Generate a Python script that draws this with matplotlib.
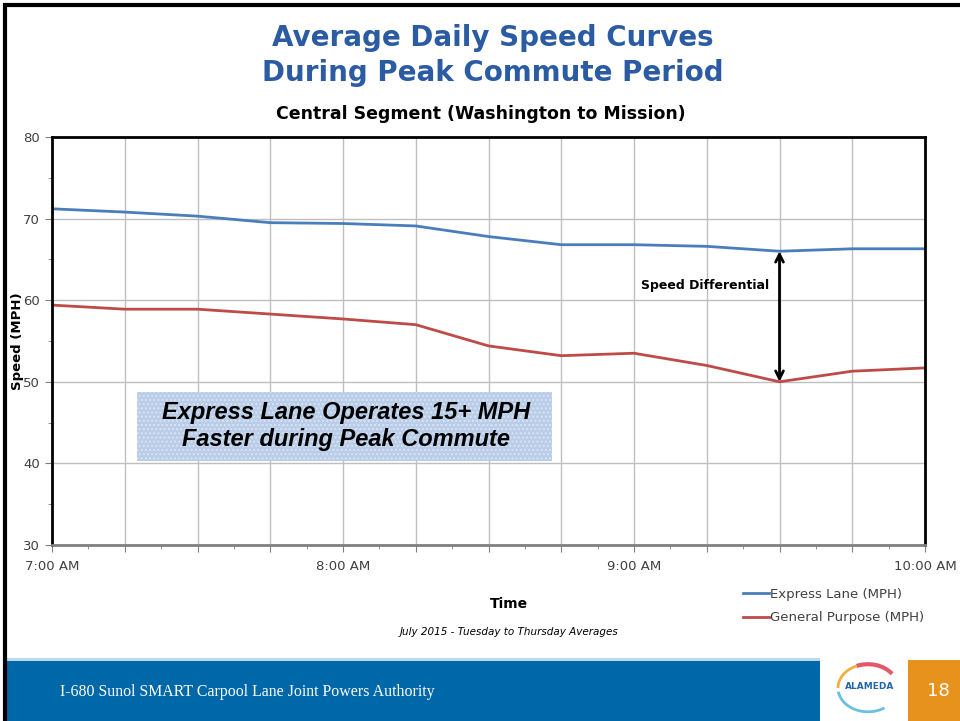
import matplotlib.pyplot as plt
from matplotlib.patches import Rectangle, Arc
from matplotlib.ticker import FixedLocator, FuncFormatter

# minutes after 7:00 AM, one sample every 15 minutes
minutes = [0, 15, 30, 45, 60, 75, 90, 105, 120, 135, 150, 165, 180]
express_lane = [71.2, 70.8, 70.3, 69.5, 69.4, 69.1, 67.8, 66.8, 66.8, 66.6, 66.0, 66.3, 66.3]
general_purpose = [59.4, 58.9, 58.9, 58.3, 57.7, 57.0, 54.4, 53.2, 53.5, 52.0, 50.0, 51.3, 51.7]
hour_labels = {0: "7:00 AM", 60: "8:00 AM", 120: "9:00 AM", 180: "10:00 AM"}

W, H = 960, 721
fig = plt.figure(figsize=(9.6, 7.21), dpi=100)
fig.patch.set_facecolor("white")


def fx(px):
    return px / W


def fy(py):
    return 1 - py / H


# slide frame
fig.patches.append(Rectangle((fx(5), fy(725)), fx(960), 720 / H, transform=fig.transFigure,
                             facecolor="none", edgecolor="black", linewidth=3, zorder=10))

# titles
fig.text(fx(493), fy(38), "Average Daily Speed Curves", ha="center", va="center",
         fontsize=20, fontweight="bold", color="#2a5ba3")
fig.text(fx(493), fy(73), "During Peak Commute Period", ha="center", va="center",
         fontsize=20, fontweight="bold", color="#2a5ba3")
fig.text(fx(481), fy(114), "Central Segment (Washington to Mission)", ha="center", va="center",
         fontsize=12.5, fontweight="bold", color="black")

# plot area
ax = fig.add_axes([fx(52), fy(545), (925 - 52) / W, (545 - 137) / H])
ax.plot(minutes, express_lane, color="#4a7ebb", linewidth=2, label="Express Lane (MPH)")
ax.plot(minutes, general_purpose, color="#be4b48", linewidth=2, label="General Purpose (MPH)")

ax.set_xlim(0, 180)
ax.set_ylim(30, 80)
ax.xaxis.set_major_locator(FixedLocator(minutes))
ax.xaxis.set_minor_locator(FixedLocator([m + 7.5 for m in minutes[:-1]]))
ax.xaxis.set_major_formatter(FuncFormatter(lambda v, p: hour_labels.get(int(round(v)), "")))
ax.set_yticks(range(30, 81, 10))
ax.set_yticks(range(35, 80, 10), minor=True)
ax.grid(True, which="major", color="#bfbfbf", linewidth=1)
ax.set_axisbelow(True)
ax.tick_params(axis="both", which="both", direction="out", colors="#808080",
               labelcolor="#404040", labelsize=9.5)
ax.tick_params(axis="both", which="major", length=5)
ax.tick_params(axis="both", which="minor", length=3)
ax.tick_params(axis="x", pad=6)
for side in ["left", "top", "right"]:
    ax.spines[side].set_color("black")
    ax.spines[side].set_linewidth(2)
ax.spines["bottom"].set_color("#808080")
ax.spines["bottom"].set_linewidth(2)

ax.set_ylabel("Speed (MPH)", fontsize=9.5, fontweight="bold")
ax.yaxis.set_label_coords(-0.032, 0.5)

# speed differential arrow at 9:30
ax.annotate("", xy=(150, express_lane[10]), xytext=(150, general_purpose[10]),
            arrowprops=dict(arrowstyle="<->", color="black", linewidth=2,
                            mutation_scale=14, shrinkA=0, shrinkB=0))
ax.text(121.5, 61.8, "Speed Differential", fontsize=9, fontweight="bold",
        ha="left", va="center")

# callout box
fig.patches.append(Rectangle((fx(137), fy(461)), (552 - 137) / W, (461 - 392) / H,
                             transform=fig.transFigure, facecolor="#b9cde8",
                             edgecolor="#d9e4f2", hatch="....", linewidth=0, zorder=2))
fig.text(fx(346), fy(413), "Express Lane Operates 15+ MPH", ha="center", va="center",
         fontsize=17, fontweight="bold", style="italic", family="Liberation Sans", zorder=3)
fig.text(fx(346), fy(440), "Faster during Peak Commute", ha="center", va="center",
         fontsize=17, fontweight="bold", style="italic", family="Liberation Sans", zorder=3)

# axis title and note
fig.text(fx(509), fy(604), "Time", ha="center", va="center", fontsize=10, fontweight="bold")
fig.text(fx(509), fy(632), "July 2015 - Tuesday to Thursday Averages", ha="center",
         va="center", fontsize=7.5, style="italic")

# legend
handles, labels = ax.get_legend_handles_labels()
fig.legend(handles, labels, loc="upper left", bbox_to_anchor=(fx(731), fy(576)),
           frameon=False, fontsize=9.5, handlelength=2.0, handletextpad=0.05,
           labelspacing=0.8, labelcolor="#404040")

# footer band
fig.patches.append(Rectangle((fx(5), 0), fx(820 - 5), (721 - 660) / H, transform=fig.transFigure,
                             facecolor="#0067a9", edgecolor="none", zorder=1))
fig.patches.append(Rectangle((fx(5), fy(661)), fx(820 - 5), 3 / H, transform=fig.transFigure,
                             facecolor="#bcd8ea", edgecolor="none", zorder=1))
fig.patches.append(Rectangle((fx(908), 0), fx(960 - 908), (721 - 660) / H, transform=fig.transFigure,
                             facecolor="#e8921e", edgecolor="none", zorder=1))
fig.text(fx(60), fy(692), "I-680 Sunol SMART Carpool Lane Joint Powers Authority",
         ha="left", va="center", fontsize=11.4, color="white", family="Liberation Serif")
fig.text(fx(938), fy(691), "18", ha="center", va="center", fontsize=13, color="white")

# small logo
logo = fig.add_axes([fx(828), fy(716), fx(80), 56 / H], zorder=5)
logo.set_xlim(-1, 1)
logo.set_ylim(-1, 1)
logo.axis("off")
logo.add_patch(Arc((0, 0), 1.5, 1.7, theta1=40, theta2=110, color="#e05a6a", linewidth=3))
logo.add_patch(Arc((0, 0), 1.5, 1.7, theta1=110, theta2=180, color="#f0b040", linewidth=2))
logo.add_patch(Arc((0, 0), 1.5, 1.7, theta1=190, theta2=300, color="#6ac0e0", linewidth=2))
logo.text(0.05, 0.05, "ALAMEDA", ha="center", va="center", fontsize=6.5,
          fontweight="bold", color="#2466a8")

fig.savefig("out.png", dpi=100)
